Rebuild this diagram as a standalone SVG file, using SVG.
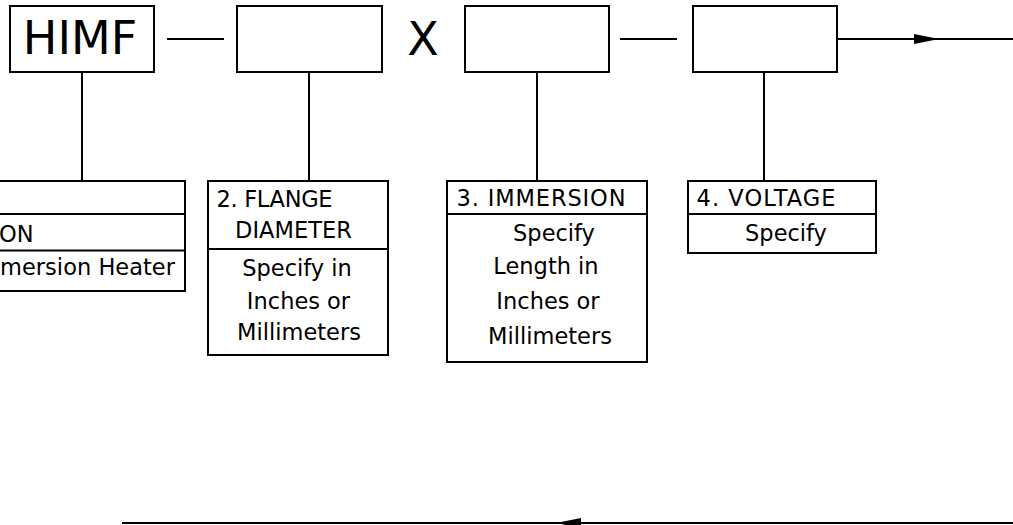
<svg xmlns="http://www.w3.org/2000/svg" width="1013" height="525" viewBox="0 0 1013 525">
<style>
.box{fill:#fff;stroke:#000;stroke-width:2}
.div{stroke:#000;stroke-width:2;fill:none}
.conn{stroke:#000;stroke-width:2;fill:none}
text{font-family:"DejaVu Sans",Verdana,sans-serif;font-size:22.5px;fill:#000}
.big{font-size:46px}
.mid{text-anchor:middle}
.end{text-anchor:end}
</style>
<defs>
<marker id="arrow" markerUnits="userSpaceOnUse" markerWidth="26" markerHeight="10" refX="25" refY="5" orient="auto">
<path d="M0,0 L25,5 L0,10 z" fill="#000"/>
</marker>
</defs>
<rect width="1013" height="525" fill="#fff"/>
<g id="connectors">
<line class="conn" x1="167" y1="39" x2="224" y2="39"/>
<line class="conn" x1="620" y1="39" x2="677" y2="39"/>
<path class="conn" d="M837,39 L939,39 L1013,39" marker-mid="url(#arrow)"/>
<line class="conn" x1="82" y1="72" x2="82" y2="181"/>
<line class="conn" x1="309" y1="72" x2="309" y2="181"/>
<line class="conn" x1="537" y1="72" x2="537" y2="181"/>
<line class="conn" x1="764" y1="72" x2="764" y2="181"/>
<path class="conn" d="M1013,523 L556,523 L122,523" marker-mid="url(#arrow)"/>
</g>
<g id="node-himf">
<rect class="box" x="10" y="6" width="144" height="66"/>
<text class="big mid" x="80" y="54">HIMF</text>
</g>
<g id="node-flange">
<rect class="box" x="237" y="6" width="145" height="66"/>
</g>
<g id="label-x">
<text class="big mid" x="423" y="55">X</text>
</g>
<g id="node-immersion">
<rect class="box" x="465" y="6" width="144" height="66"/>
</g>
<g id="node-voltage">
<rect class="box" x="693" y="6" width="144" height="66"/>
</g>
<g id="desc-1">
<rect class="box" x="-25" y="181" width="210" height="110"/>
<line class="div" x1="-25" y1="214" x2="185" y2="214"/>
<line class="div" x1="-25" y1="250.5" x2="185" y2="250.5"/>
<text x="-1" y="242">ON</text>
<text x="0" y="275" textLength="175" lengthAdjust="spacing">mersion Heater</text>
</g>
<g id="desc-2">
<rect class="box" x="208" y="181" width="180" height="174"/>
<line class="div" x1="208" y1="249" x2="388" y2="249"/>
<text x="216.5" y="207" textLength="116" lengthAdjust="spacing">2. FLANGE</text>
<text x="235" y="237.5" textLength="117" lengthAdjust="spacing">DIAMETER</text>
<text class="mid" x="297" y="276">Specify in</text>
<text class="mid" x="298.5" y="308.5">Inches or</text>
<text class="mid" x="299" y="340">Millimeters</text>
</g>
<g id="desc-3">
<rect class="box" x="447" y="181" width="200" height="181"/>
<line class="div" x1="447" y1="214" x2="647" y2="214"/>
<text x="456.5" y="206" textLength="169" lengthAdjust="spacing">3. IMMERSION</text>
<text class="mid" x="554" y="241">Specify</text>
<text class="mid" x="546" y="274">Length in</text>
<text class="mid" x="548" y="309">Inches or</text>
<text class="mid" x="550" y="344">Millimeters</text>
</g>
<g id="desc-4">
<rect class="box" x="688" y="181" width="188" height="72"/>
<line class="div" x1="688" y1="214" x2="876" y2="214"/>
<text x="696.5" y="206" textLength="139" lengthAdjust="spacing">4. VOLTAGE</text>
<text class="mid" x="786" y="241">Specify</text>
</g>
</svg>
